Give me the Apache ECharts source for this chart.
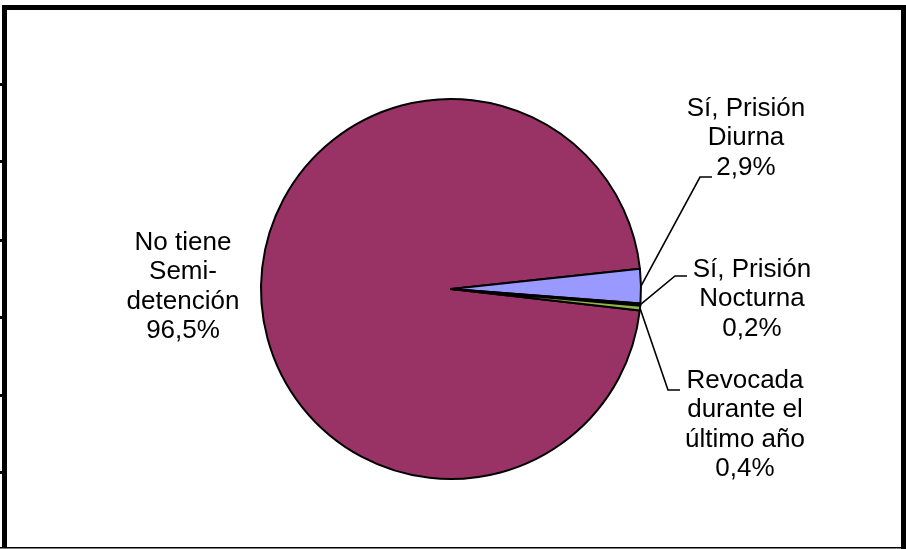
<!DOCTYPE html>
<html><head><meta charset="utf-8">
<script src="https://cdn.jsdelivr.net/npm/echarts@6/dist/echarts.min.js"></script>
<style>html,body{margin:0;padding:0;background:#fff}#c{width:906px;height:549px}</style>
</head><body><div id="c"></div>
<script>
// ---- data ----
const categories = ['No tiene Semi-detención', 'Sí, Prisión Diurna', 'Sí, Prisión Nocturna', 'Revocada durante el último año'];
const labelTexts = ['No tiene\nSemi-\ndetención', 'Sí, Prisión\nDiurna', 'Sí, Prisión\nNocturna', 'Revocada\ndurante el\núltimo año'];
const values = [96.5, 2.9, 0.2, 0.4];
const percentLabels = ['96,5%', '2,9%', '0,2%', '0,4%'];

// ---- styling / layout ----
const colors = ['#993366', '#9999FF', '#1a1a1a', '#93B546'];
const labelPos = [
  { x: 183, y: 287 },
  { x: 746, y: 138, elbow: [700, 177], end: [712, 177] },
  { x: 752, y: 299, elbow: [675, 276], end: [687, 276] },
  { x: 745, y: 425, elbow: [668, 390], end: [680, 390] }
];

const chart = echarts.init(document.getElementById('c'), null, { renderer: 'canvas' });

const frame = [
  { type: 'rect', shape: { x: 2, y: 5, width: 904, height: 5 } },
  { type: 'rect', shape: { x: 2, y: 5, width: 5, height: 542 } },
  { type: 'rect', shape: { x: 901, y: 5, width: 5, height: 544 } },
  { type: 'rect', shape: { x: 0, y: 547, width: 901, height: 1.5 } }
];
const tickYs = [84, 161, 240, 317, 395, 472];
tickYs.forEach(function (y) {
  frame.push({ type: 'rect', shape: { x: 0, y: y - 1, width: 3, height: 3 } });
});

chart.setOption({
  backgroundColor: '#ffffff',
  animation: false,
  graphic: frame.map(function (g) {
    return Object.assign({ silent: true, z: 100, style: { fill: '#000' } }, g);
  }),
  series: [{
    type: 'pie',
    center: [451, 289],
    radius: 190,
    startAngle: -6.5,
    clockwise: true,
    avoidLabelOverlap: false,
    minAngle: 0,
    itemStyle: { borderColor: '#000', borderWidth: 2 },
    label: {
      show: true,
      position: 'outside',
      color: '#000',
      fontFamily: 'Liberation Sans, Arial, sans-serif',
      fontSize: 26,
      lineHeight: 29.5,
      align: 'center',
      formatter: function (p) {
        return labelTexts[p.dataIndex] + '\n' + percentLabels[p.dataIndex];
      }
    },
    labelLine: {
      show: true,
      length: 10,
      length2: 10,
      smooth: false,
      lineStyle: { color: '#000', width: 1.6 }
    },
    emphasis: { disabled: true },
    labelLayout: function (params) {
      const i = params.dataIndex;
      const cfg = labelPos[i];
      const res = { x: cfg.x, y: cfg.y, align: 'center', verticalAlign: 'middle' };
      if (cfg.elbow && params.labelLinePoints) {
        res.labelLinePoints = [params.labelLinePoints[0], cfg.elbow, cfg.end];
      }
      return res;
    },
    data: categories.map(function (name, i) {
      const item = { name: name, value: values[i], itemStyle: { color: colors[i] } };
      if (i === 0) item.labelLine = { show: false };
      return item;
    })
  }]
});
</script>
</body></html>
